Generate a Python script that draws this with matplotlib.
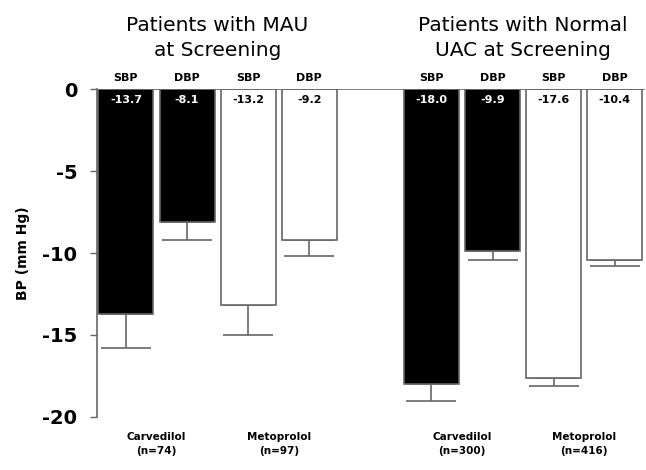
import matplotlib
matplotlib.use('Agg')
import matplotlib.pyplot as plt

# data
positions = [0, 1, 2, 3, 5, 6, 7, 8]
bp_labels = ['SBP', 'DBP', 'SBP', 'DBP', 'SBP', 'DBP', 'SBP', 'DBP']
bp_change = [-13.7, -8.1, -13.2, -9.2, -18.0, -9.9, -17.6, -10.4]
bp_err = [2.1, 1.1, 1.8, 1.0, 1.0, 0.5, 0.5, 0.4]
is_carvedilol = [True, True, False, False, True, True, False, False]

drug_labels = ['Carvedilol\n(n=74)', 'Metoprolol\n(n=97)',
               'Carvedilol\n(n=300)', 'Metoprolol\n(n=416)']
drug_x = [0.5, 2.5, 5.5, 7.5]
group_titles = ['Patients with MAU\nat Screening',
                'Patients with Normal\nUAC at Screening']
group_x = [1.5, 6.5]
yticks = [0, -5, -10, -15, -20]

fig = plt.figure(figsize=(6.46, 4.70), dpi=100)
ax = fig.add_axes([0.150, 0.1128, 0.848, 0.6978])

colors = ['black' if c else 'white' for c in is_carvedilol]
ax.bar(positions, bp_change, width=0.9, color=colors, edgecolor='#666666',
       linewidth=1.2, zorder=2)
ax.errorbar(positions, bp_change, yerr=[bp_err, [0] * len(bp_err)], fmt='none',
            ecolor='#666666', elinewidth=1.2, capsize=18, capthick=1.2, zorder=1)

ax.axhline(0, color='#666666', linewidth=1.2, zorder=3)

for x, lab, val, carv in zip(positions, bp_labels, bp_change, is_carvedilol):
    ax.text(x, 0.35, lab, ha='center', va='bottom', fontsize=8,
            fontweight='bold')
    ax.text(x, -0.65, f'{val:.1f}', ha='center', va='center', fontsize=8,
            fontweight='bold', color='white' if carv else 'black', zorder=4)

for x, lab in zip(drug_x, drug_labels):
    ax.text(x, -20.9, lab, ha='center', va='top', fontsize=7.5,
            fontweight='bold', linespacing=1.5)

for x, t in zip(group_x, group_titles):
    ax.text(x, 1.75, t, ha='center', va='bottom', fontsize=14.5,
            linespacing=1.45)

ax.set_xlim(-0.475, 8.49)
ax.set_ylim(-20, 0)
ax.set_yticks(yticks)
ax.set_yticklabels([str(t) for t in yticks], fontsize=14, fontweight='bold')
ax.tick_params(axis='y', length=5, width=1, color='#666666', pad=9)
ax.set_xticks([])
ax.set_ylabel('BP (mm Hg)', fontsize=10, fontweight='bold', labelpad=9)

for s in ['top', 'right', 'bottom']:
    ax.spines[s].set_visible(False)
ax.spines['left'].set_color('#666666')
ax.spines['left'].set_linewidth(1.2)

fig.savefig('out.png', dpi=100)
